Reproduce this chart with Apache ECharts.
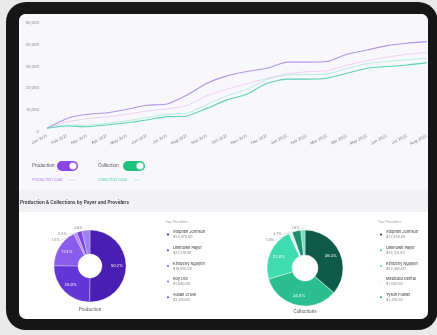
<!DOCTYPE html>
<html><head><meta charset="utf-8">
<script src="https://cdn.jsdelivr.net/npm/echarts@6/dist/echarts.min.js"></script>
<style>html,body{margin:0;padding:0;background:#e9e9e9;overflow:hidden}#c{width:437px;height:335px}</style>
</head><body><div id="c"></div>
<script>
// ---- data ----
const months = ['Jan 2021','Feb 2021','Mar 2021','Apr 2021','May 2021','Jun 2021','Jul 2021','Aug 2021','Sep 2021','Oct 2021','Nov 2021','Dec 2021','Jan 2022','Feb 2022','Mar 2022','Apr 2022','May 2022','Jun 2022','Jul 2022','Aug 2022'];
const production     = [1600,6100,8000,8700,10300,12100,12700,16800,22200,25600,27600,29100,31900,31900,32200,35500,37500,39500,40600,41300];
const productionGoal = [1600,4500,6000,6800,8000,9500,10500,12000,16500,19500,22000,24500,26500,27500,28000,30500,32500,34200,35500,36300];
const collection     = [1600,2600,2300,3100,4100,5400,6900,7200,10700,14600,17200,22200,24100,24100,24500,26800,29100,29900,30600,31700];
const collectionGoal = [1600,3000,3000,3800,5000,6500,8000,8500,12500,16500,19500,24000,26000,26200,26500,29000,31200,32200,33000,33700];
const yTicks = [0,10000,20000,30000,40000,50000];

const prodProviders = ['Stephen Johnson','Unknown Payer','Kimberly Nguyen','Roy Lee','Susan Cruse','Other Payers'];
const prodValues    = [54870,27310,19050,1640,2610,3920];
const collProviders = ['Stephen Johnson ','Unknown Payer ','Kimberly Nguyen ','Medicaid Dental','Tyson Fowler','Other Providers'];
const collValues    = [37450,35120,23480,1500,3810,1820];

// ---- styles ----
const prodColors = ['#4a1db3','#6236d6','#8a5cec','#b58af6','#7646e2','#9c7ff0'];
const prodLegendColors = ['#2c1680','#5a36d6','#7b58e8','#8d6be8','#6a44d8'];
const collColors = ['#0f5a49','#2bbf90','#3fdcb0','#d6f6ec','#1d8f6d','#6fe0c2'];
const collLegendColors = ['#0c2f27','#2fc79a','#52e0b8','#e6f8f2','#2a9e78'];

function money(v){return '$'+v.toLocaleString('en-US',{minimumFractionDigits:2,maximumFractionDigits:2});}
function pieData(names, values, colors){
  const total = values.reduce((a,b)=>a+b,0);
  return names.map((n,i)=>{
    const small = values[i]/total < 0.05;
    return {name:n, value:values[i], itemStyle:{color:colors[i]},
      label: small ? {position:'outside', color:'#777', fontSize:3.6, distanceToLabelLine:1} : {position:'inside', color:'#fff', fontSize:4},
      labelLine: {show: small, length:2, length2:2, lineStyle:{color:'#bbb', width:0.4}}};
  });
}
function legendFor(names, values, colors, left){
  return {
    data: names.slice(0,5).map((n,i)=>({name:n, itemStyle:{color:colors[i]}})),
    orient:'vertical', left:left, top:230, padding:0, itemWidth:4, itemHeight:4, icon:'circle', itemGap:6.6,
    selectedMode:false,
    formatter: n => '{n|'+n.trim()+'}\n{v|'+money(values[names.indexOf(n)])+'}',
    textStyle:{padding:[0,0,0,-2], rich:{n:{fontSize:3.9,color:'#333',lineHeight:5.2,fontFamily:'Inter'},v:{fontSize:3.6,color:'#888',lineHeight:5,fontFamily:'Inter'}}}
  };
}

const chart = echarts.init(document.getElementById('c'), null, {renderer:'canvas'});
const T = (x,y,text,size,color,extra) => ({type:'text', z:20, style:Object.assign({x:x,y:y,text:text,fontSize:size,fill:color,fontFamily:'Inter',verticalAlign:'middle'}, extra||{})});

chart.setOption({
  animation:false,
  textStyle:{fontFamily:'Inter'},
  graphic:[
    {type:'rect', z:-10, shape:{x:6,y:2,width:432,height:328,r:20}, style:{fill:'#161616'}},
    {type:'rect', z:-9, shape:{x:19,y:14,width:409,height:305,r:7}, style:{fill:'#ffffff'}},
    {type:'rect', z:-8, shape:{x:19,y:14,width:409,height:176,r:[7,7,0,0]}, style:{fill:'#f8f7fc'}},
    {type:'rect', z:-8, shape:{x:19,y:190,width:409,height:22}, style:{fill:'#f2f1f6'}},
    // toggles
    T(32,166,'Production',4.4,'#444'),
    {type:'rect', z:20, shape:{x:57,y:161,width:21,height:10,r:5}, style:{fill:'#8a45e6'}},
    {type:'circle', z:21, shape:{cx:73,cy:166,r:3.6}, style:{fill:'#fff',stroke:'#b592f2',lineWidth:0.6}},
    T(98,166,'Collection',4.4,'#444'),
    {type:'rect', z:20, shape:{x:123,y:161,width:22,height:10,r:5}, style:{fill:'#1fbf7e'}},
    {type:'circle', z:21, shape:{cx:140,cy:166,r:3.6}, style:{fill:'#fff',stroke:'#8fe0bd',lineWidth:0.6}},
    T(32,180,'Production Goal',4,'#b48ef0'),
    {type:'line', z:20, shape:{x1:69,y1:180,x2:76,y2:180}, style:{stroke:'#f1d4f4',lineWidth:1}},
    T(98,180,'Collection Goal',4,'#55d3b3'),
    {type:'line', z:20, shape:{x1:134,y1:180,x2:140,y2:180}, style:{stroke:'#bfeee0',lineWidth:1}},
    // section title
    T(20,203,'Production & Collections by Payer and Providers',4.7,'#333',{fontWeight:600}),
    T(165,222,'Top Providers',3.6,'#999'),
    T(378,222,'Top Providers',3.6,'#999'),
    T(90,310,'Production',4.4,'#444',{align:'center'}),
    T(305,312,'Collections',4.4,'#444',{align:'center'})
  ],
  grid:{left:47, top:22.7, width:380, height:109, containLabel:false},
  xAxis:{type:'category', data:months, boundaryGap:false,
    axisLine:{show:false}, axisTick:{show:false},
    axisLabel:{interval:0, rotate:26, fontSize:4, color:'#777', margin:4}},
  yAxis:{type:'value', min:yTicks[0], max:yTicks[yTicks.length-1], interval:yTicks[1]-yTicks[0],
    splitLine:{show:false}, axisLine:{show:false}, axisTick:{show:false},
    axisLabel:{fontSize:4, color:'#888', margin:8}},
  legend:[legendFor(prodProviders, prodValues, prodLegendColors, 165), legendFor(collProviders, collValues, collLegendColors, 378)],
  series:[
    {type:'line', name:'Production Goal', data:productionGoal, showSymbol:false, smooth:0.2, lineStyle:{color:'#efd2f3', width:1}, itemStyle:{color:'#efd2f3'}},
    {type:'line', name:'Collection Goal', data:collectionGoal, showSymbol:false, smooth:0.2, lineStyle:{color:'#b8eede', width:1}, itemStyle:{color:'#b8eede'}},
    {type:'line', name:'Production', data:production, showSymbol:false, smooth:0.2, lineStyle:{color:'#b196ec', width:1.1}, itemStyle:{color:'#b196ec'}},
    {type:'line', name:'Collection', data:collection, showSymbol:false, smooth:0.2, lineStyle:{color:'#5cd2b6', width:1.1}, itemStyle:{color:'#5cd2b6'}},
    {type:'pie', name:'ProductionPie', center:[90,266], radius:[12,36], startAngle:90, clockwise:true,
      avoidLabelOverlap:true, itemStyle:{borderColor:'#fff', borderWidth:0.3},
      label:{formatter:p=>p.percent.toFixed(1)+'%', fontSize:4},
      data:pieData(prodProviders, prodValues, prodColors)},
    {type:'pie', name:'CollectionsPie', center:[305,268], radius:[13,38], startAngle:90, clockwise:true,
      avoidLabelOverlap:true, itemStyle:{borderColor:'#fff', borderWidth:0.4},
      label:{formatter:p=>p.percent.toFixed(1)+'%', fontSize:4},
      data:pieData(collProviders, collValues, collColors)}
  ]
});
</script></body></html>
